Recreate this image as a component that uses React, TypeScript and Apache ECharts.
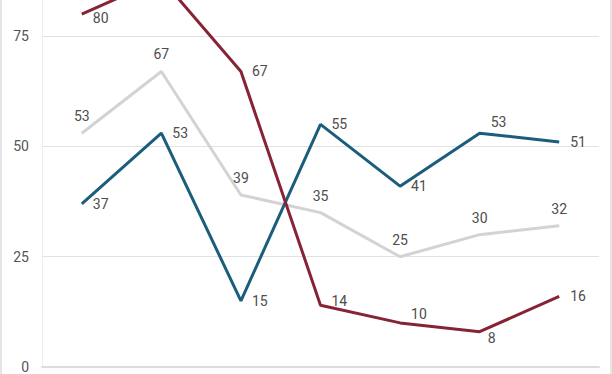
import React, { useEffect, useRef } from "react";
import * as echarts from "echarts";

const categories = ["1", "2", "3", "4", "5", "6", "7"];
const grayValues = [53, 67, 39, 35, 25, 30, 32];
const blueValues = [37, 53, 15, 55, 41, 53, 51];
const redValues = [80, 88, 67, 14, 10, 8, 16];
const yTickStep = 25;
const yVisibleMax = 83.2; // the reference window cuts the axis here

// label nudges (style only)
const blueLabelNudge = [[0, 0], [0, 0], [0, 0], [0, 0], [0, 0], [0, -11], [0, 0]];
const redLabelNudge = [[0, 4], [0, 0], [0, 0], [0, -4], [0, -9], [-3, 6], [0, 0]];
// labels lying above the visible window (hidden, as in the reference)
const redLabelHidden = [false, true, false, false, false, false, false];

const LABEL_COLOR = "#4d4d4d";
const FONT = "Roboto, 'Noto Sans', sans-serif";

function mk(values: number[], nudges: number[][] | null, hidden?: boolean[]) {
  return values.map((v, i) => {
    const label: any = {};
    let custom = false;
    if (nudges) {
      const n = nudges[i];
      if (n[0] !== 0 || n[1] !== 0) {
        label.offset = n;
        custom = true;
      }
    }
    if (hidden && hidden[i]) {
      label.show = false;
      custom = true;
    }
    return custom ? { value: v, label } : v;
  });
}

export default function App() {
  const ref = useRef<HTMLDivElement>(null);
  useEffect(() => {
    document.body.style.margin = "0";
    const chart = echarts.init(ref.current!, null, { renderer: "svg" });
    const baseLabel = {
      show: true,
      color: LABEL_COLOR,
      fontSize: 14,
      fontFamily: FONT,
    };
    const common = {
      type: "line",
      symbol: "circle",
      symbolSize: 0,
      showSymbol: true,
      clip: true,
    };
    chart.setOption({
      animation: false,
      grid: { left: 42, right: 13, bottom: 3.4, top: 0, containLabel: false },
      xAxis: {
        type: "category",
        data: categories,
        boundaryGap: true,
        axisLine: { show: true, lineStyle: { color: "#dcdcdc", width: 2 } },
        axisTick: { show: false },
        axisLabel: { show: false },
        splitLine: { show: false },
      },
      yAxis: {
        type: "value",
        min: 0,
        max: yVisibleMax,
        interval: yTickStep,
        axisLine: { show: true, lineStyle: { color: "#eeeeee", width: 1 } },
        axisTick: { show: false },
        axisLabel: { color: "#555555", fontSize: 14, fontFamily: FONT, margin: 13, showMaxLabel: false },
        splitLine: { show: true, showMaxLine: false, lineStyle: { color: "#e2e2e2", width: 1 } },
      },
      series: [
        {
          ...common,
          data: mk(grayValues, null),
          lineStyle: { color: "#d3d3d3", width: 3 },
          itemStyle: { color: "#d3d3d3" },
          label: { ...baseLabel, position: "top", distance: 10 },
          z: 1,
        },
        {
          ...common,
          data: mk(blueValues, blueLabelNudge),
          lineStyle: { color: "#1a5d7c", width: 3 },
          itemStyle: { color: "#1a5d7c" },
          label: { ...baseLabel, position: "right", distance: 11 },
          z: 2,
        },
        {
          ...common,
          data: mk(redValues, redLabelNudge, redLabelHidden),
          lineStyle: { color: "#862436", width: 3 },
          itemStyle: { color: "#862436" },
          label: { ...baseLabel, position: "right", distance: 11 },
          z: 3,
        },
      ],
      graphic: [
        { type: "line", shape: { x1: 1, y1: 0, x2: 1, y2: 374 }, style: { stroke: "#e6e6e6", lineWidth: 2 }, silent: true },
        { type: "line", shape: { x1: 611, y1: 0, x2: 611, y2: 374 }, style: { stroke: "#e6e6e6", lineWidth: 2 }, silent: true },
      ],
    });
    return () => chart.dispose();
  }, []);
  return <div ref={ref} style={{ width: 612, height: 374 }} />;
}
